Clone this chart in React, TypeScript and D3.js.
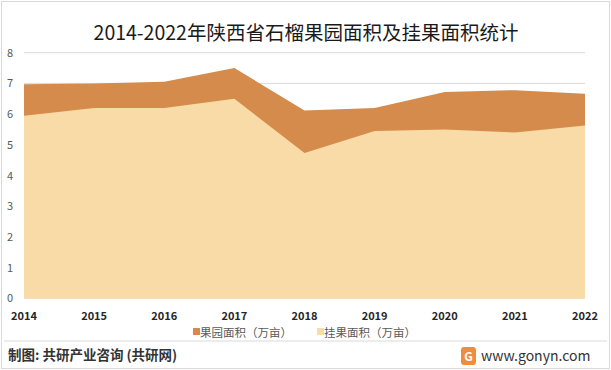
import * as d3 from "d3";

const years = ["2014", "2015", "2016", "2017", "2018", "2019", "2020", "2021", "2022"];
// 果园面积（万亩）
const orchardArea = [6.97, 7.0, 7.05, 7.5, 6.12, 6.2, 6.72, 6.78, 6.66];
// 挂果面积（万亩）
const bearingArea = [5.95, 6.2, 6.2, 6.5, 4.73, 5.45, 5.5, 5.4, 5.63];
const yTicks = [0, 1, 2, 3, 4, 5, 6, 7, 8];

const W = 611;
const H = 370;
const font = "'Microsoft YaHei', 'Noto Sans CJK SC', sans-serif";

export default function App() {
  const x = d3.scalePoint().domain(years).range([24, 585]);
  const y = d3.scaleLinear().domain([0, 8]).range([298.3, 52.7]);

  const orchardPath = d3
    .area<number>()
    .x((_, i) => x(years[i]) as number)
    .y0(y(0))
    .y1((d) => y(d))(orchardArea);

  const bearingPath = d3
    .area<number>()
    .x((_, i) => x(years[i]) as number)
    .y0(y(0))
    .y1((d) => y(d))(bearingArea);

  return (
    <svg
      width={W}
      height={H}
      style={{ position: "absolute", left: 0, top: 0, background: "#fff" }}
      fontFamily={font}
    >
      <rect x={1.5} y={1.5} width={W - 3} height={H - 3} fill="#fff" stroke="#d9d9d9" />
      <text x={306} y={40} textAnchor="middle" fontSize={19.5} fill="#1a1a1a">
        2014-2022年陕西省石榴果园面积及挂果面积统计
      </text>

      {yTicks.map((t) => (
        <g key={t}>
          {t > 0 && (
            <line x1={24} x2={585} y1={y(t)} y2={y(t)} stroke="#d9d9d9" strokeWidth={1} />
          )}
          <text x={7} y={y(t) + 4} fontSize={11} fill="#595959">
            {t}
          </text>
        </g>
      ))}

      <path d={orchardPath ?? ""} fill="#D48B4C" />
      <path d={bearingPath ?? ""} fill="#F8DBA6" />

      {years.map((yr) => (
        <text
          key={yr}
          x={x(yr) as number}
          y={320}
          textAnchor="middle"
          fontSize={11}
          fontWeight="bold"
          fill="#262626"
        >
          {yr}
        </text>
      ))}

      <rect x={193} y={328} width={7} height={7} fill="#D48B4C" />
      <text x={200} y={337} fontSize={11.5} fill="#595959">
        果园面积（万亩）
      </text>
      <rect x={317} y={328} width={7} height={7} fill="#F8DBA6" />
      <text x={324} y={337} fontSize={11.5} fill="#595959">
        挂果面积（万亩）
      </text>

      <line x1={4} x2={607} y1={341} y2={341} stroke="#d9d9d9" />
      <text x={8} y={360} fontSize={13.5} fontWeight="bold" fill="#333">
        制图: 共研产业咨询 (共研网)
      </text>
      <g transform="translate(461,347)">
        <rect x={0} y={0} width={15} height={18} rx={3} fill="#F08C3C" />
        <text x={7.5} y={14} textAnchor="middle" fontSize={12} fontWeight="bold" fill="#fff">
          G
        </text>
      </g>
      <text x={481} y={361} fontSize={14} fill="#333">
        www.gonyn.com
      </text>
    </svg>
  );
}
